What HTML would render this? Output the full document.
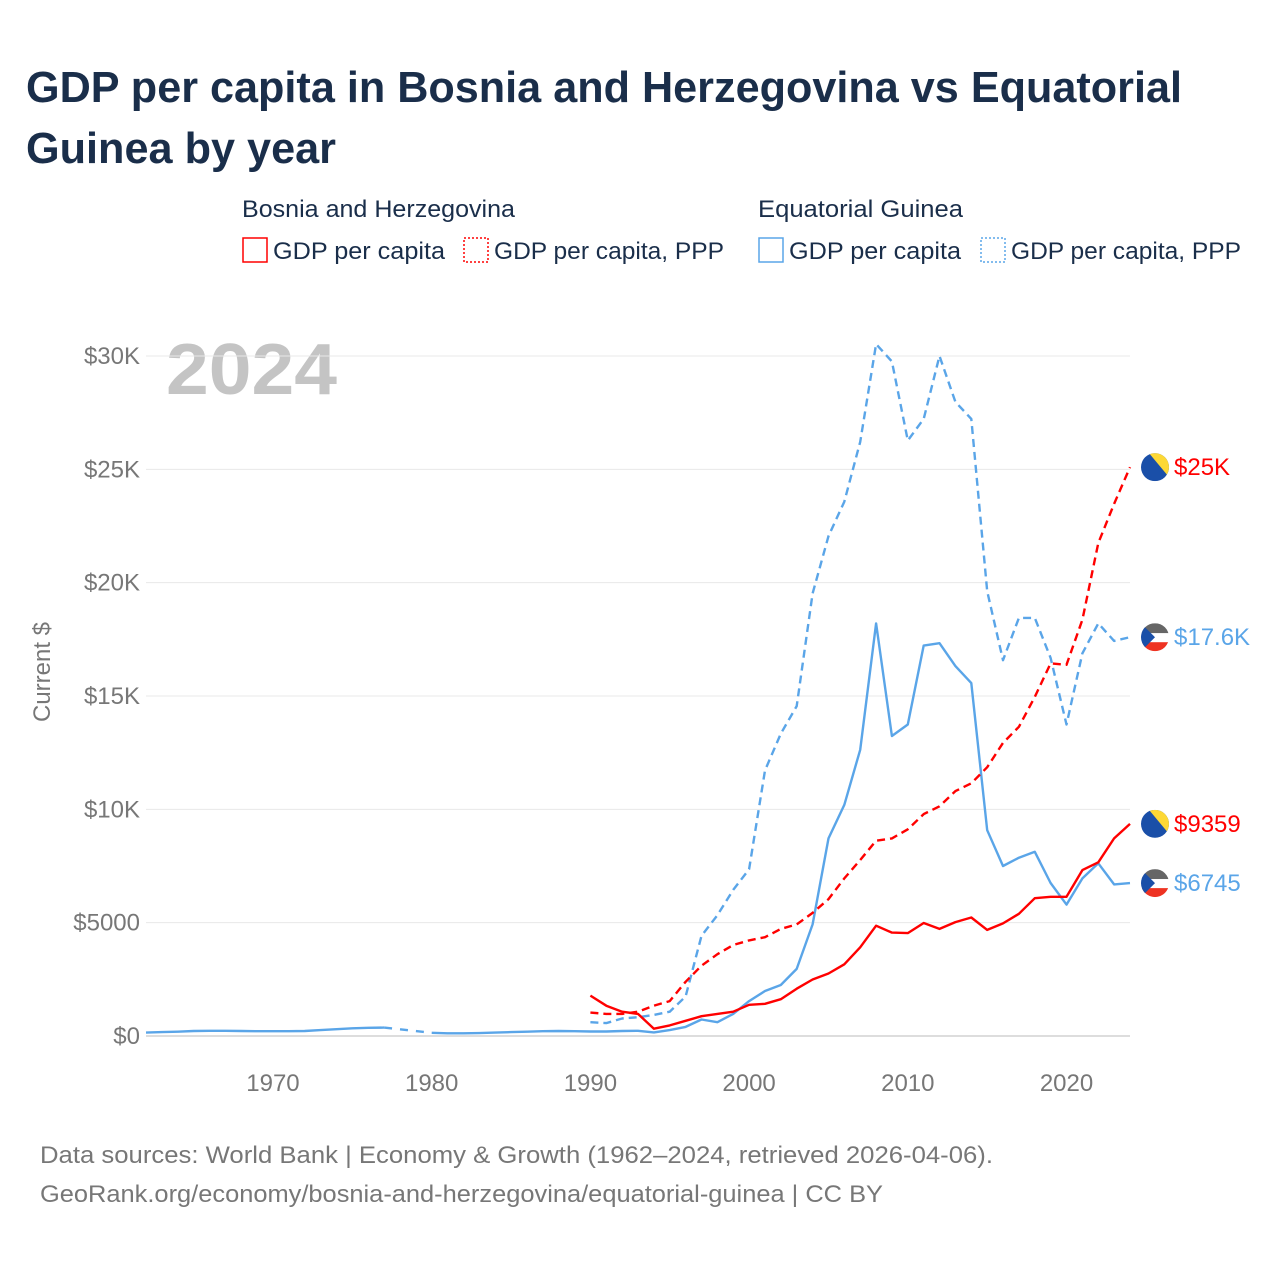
<!DOCTYPE html>
<html><head><meta charset="utf-8"><style>
body{margin:0;background:#fff;font-family:"Liberation Sans",sans-serif;}
#root{position:relative;width:1280px;height:1280px;overflow:hidden;}
</style></head><body>
<div id="root">
<svg id="svg" width="1280" height="1280" xmlns="http://www.w3.org/2000/svg">
<text x="26" y="102" font-size="44" font-weight="bold" fill="#1a2e4a" textLength="1156" lengthAdjust="spacingAndGlyphs">GDP per capita in Bosnia and Herzegovina vs Equatorial</text>
<text x="26" y="163" font-size="44" font-weight="bold" fill="#1a2e4a" textLength="310" lengthAdjust="spacingAndGlyphs">Guinea by year</text>
<g font-size="24" fill="#1a2e4a">
<text x="242" y="217" textLength="273" lengthAdjust="spacingAndGlyphs">Bosnia and Herzegovina</text>
<text x="758" y="217" textLength="205" lengthAdjust="spacingAndGlyphs">Equatorial Guinea</text>
<rect x="243" y="238" width="24" height="24" fill="none" stroke="#f00" stroke-width="1.5"/>
<text x="273" y="259" textLength="172" lengthAdjust="spacingAndGlyphs">GDP per capita</text>
<rect x="464" y="238" width="24" height="24" fill="none" stroke="#f00" stroke-width="1.5" stroke-dasharray="2,2"/>
<text x="494" y="259" textLength="230" lengthAdjust="spacingAndGlyphs">GDP per capita, PPP</text>
<rect x="759" y="238" width="24" height="24" fill="none" stroke="#5aa5e8" stroke-width="1.5"/>
<text x="789" y="259" textLength="172" lengthAdjust="spacingAndGlyphs">GDP per capita</text>
<rect x="981" y="238" width="24" height="24" fill="none" stroke="#5aa5e8" stroke-width="1.5" stroke-dasharray="2,2"/>
<text x="1011" y="259" textLength="230" lengthAdjust="spacingAndGlyphs">GDP per capita, PPP</text>
</g>
<text x="166" y="394" font-size="72" font-weight="bold" fill="#c4c4c4" textLength="171" lengthAdjust="spacingAndGlyphs">2024</text>
<text transform="translate(50,672) rotate(-90)" text-anchor="middle" font-size="24" fill="#777">Current $</text>
<g id="grid"></g><g id="series"></g><g id="labels"></g>
<text x="40" y="1163" font-size="24" fill="#777" textLength="953" lengthAdjust="spacingAndGlyphs">Data sources: World Bank | Economy &amp; Growth (1962–2024, retrieved 2026-04-06).</text>
<text x="40" y="1202" font-size="24" fill="#777" textLength="843" lengthAdjust="spacingAndGlyphs">GeoRank.org/economy/bosnia-and-herzegovina/equatorial-guinea | CC BY</text>
</svg>
</div>
<script>
const yTicks=[0,5000,10000,15000,20000,25000,30000];
const yTickLabels=["$0","$5000","$10K","$15K","$20K","$25K","$30K"];
const xTicks=[1970,1980,1990,2000,2010,2020];
const bihYears=[1990,1991,1992,1993,1994,1995,1996,1997,1998,1999,2000,2001,2002,2003,2004,2005,2006,2007,2008,2009,2010,2011,2012,2013,2014,2015,2016,2017,2018,2019,2020,2021,2022,2023,2024];
const bihGdp=[1784,1338,1074,973,324,466,669,872,973,1074,1378,1419,1622,2088,2493,2757,3162,3912,4865,4561,4541,4987,4723,5027,5230,4682,4966,5392,6080,6141,6141,7317,7662,8716,9359];
const bihPpp=[1034,973,973,1074,1338,1540,2392,3101,3608,4013,4216,4358,4723,4925,5432,6040,6953,7763,8615,8716,9121,9790,10135,10804,11148,11858,12932,13641,14959,16439,16378,18365,21750,23473,25095];
const eqgEarlyYears=[1962,1963,1964,1965,1966,1967,1968,1969,1970,1971,1972,1973,1974,1975,1976,1977];
const eqgEarlyGdp=[150,170,190,220,230,230,220,210,210,210,220,260,300,340,360,370];
const eqgYears=[1980,1981,1982,1983,1984,1985,1986,1987,1988,1989,1990,1991,1992,1993,1994,1995,1996,1997,1998,1999,2000,2001,2002,2003,2004,2005,2006,2007,2008,2009,2010,2011,2012,2013,2014,2015,2016,2017,2018,2019,2020,2021,2022,2023,2024];
const eqgGdp=[140,120,120,130,150,170,190,210,220,210,200,200,220,230,160,260,400,730,608,973,1540,1986,2250,2959,4925,8716,10196,12628,18202,13236,13743,17230,17331,16317,15567,9081,7500,7865,8128,6750,5797,6953,7621,6689,6745];
const eqgPppYears=bihYears;
const eqgPpp=[608,568,770,831,932,1074,1743,4419,5331,6446,7358,11716,13338,14554,19520,22054,23574,26210,30527,29756,26271,27223,30000,27973,27223,19621,16581,18446,18446,16682,13743,16885,18202,17432,17594];
const NS="http://www.w3.org/2000/svg";
const X=y=>146+(y-1962)*(984/62);
const Y=v=>1036-v*(680/30000);
function mk(t,a,p){const e=document.createElementNS(NS,t);for(const k in a)e.setAttribute(k,a[k]);p.appendChild(e);return e;}
const grid=document.getElementById('grid'),ser=document.getElementById('series'),lab=document.getElementById('labels');
yTicks.forEach((v,i)=>{
 const l=mk('line',{x1:146,x2:1130,y1:Y(v),y2:Y(v),stroke:i==0?'#ddd':'#e8e8e8','stroke-width':i==0?2:1},grid);
 
 
 const t=mk('text',{x:140,y:Y(v)+8,'text-anchor':'end','font-size':24,fill:'#777'},grid);t.textContent=yTickLabels[i];
 
 
});
xTicks.forEach(y=>{
 const t=mk('text',{x:X(y),y:1091,'text-anchor':'middle','font-size':24,fill:'#777'},grid);t.textContent=y;
 
 
});
function line(ys,vs,col,dash,name){
 const d=ys.map((y,i)=>(i?'L':'M')+X(y).toFixed(1)+','+Y(vs[i]).toFixed(1)).join('');
 const p=mk('path',{d:d,fill:'none',stroke:col,'stroke-width':2.4,'stroke-dasharray':dash||'none','stroke-linejoin':'round'},ser);
 
 
}
const R='#f00',B='#5aa5e8';
line(eqgEarlyYears,eqgEarlyGdp,B,null,'line-eqg-gdp-early');
line([eqgEarlyYears[eqgEarlyYears.length-1],eqgYears[0]],[eqgEarlyGdp[eqgEarlyGdp.length-1],eqgGdp[0]],B,'8,8','line-eqg-gdp-gap');
line(eqgYears,eqgGdp,B,null,'line-eqg-gdp');
line(eqgPppYears,eqgPpp,B,'8,5','line-eqg-ppp');
line(bihYears,bihPpp,R,'8,5','line-bih-ppp');
line(bihYears,bihGdp,R,null,'line-bih-gdp');
function flag(v,type,col,text,name){
 const cy=Y(v),cx=1155;
 const g=mk('g',{},lab);
 
 
 mk('clipPath',{id:'c'+name},g).appendChild(document.createElementNS(NS,'circle')).setAttribute('cx',cx);
 const cc=g.querySelector('circle');cc.setAttribute('cy',cy);cc.setAttribute('r',14);
 const cg=mk('g',{'clip-path':'url(#c'+name+')'},g);
 if(type=='bih'){mk('rect',{x:cx-14,y:cy-14,width:28,height:28,fill:'#1a4fa8'},cg);mk('polygon',{points:`${cx-6},${cy-14} ${cx+14},${cy-14} ${cx+14},${cy+10}`,fill:'#fdd835'},cg);}
 else{mk('rect',{x:cx-14,y:cy-14,width:28,height:10,fill:'#666'},cg);mk('rect',{x:cx-14,y:cy-4,width:28,height:9,fill:'#fff'},cg);mk('rect',{x:cx-14,y:cy+5,width:28,height:9,fill:'#e32'},cg);mk('polygon',{points:`${cx-14},${cy-14} ${cx},${cy} ${cx-14},${cy+14}`,fill:'#1a4fa8'},cg);}
 const t=mk('text',{x:1174,y:cy+8,'font-size':24,fill:col},lab);t.textContent=text;
 
 
}
flag(bihPpp[bihPpp.length-1],'bih',R,'$25K','bih-ppp');
flag(eqgPpp[eqgPpp.length-1],'eqg',B,'$17.6K','eqg-ppp');
flag(bihGdp[bihGdp.length-1],'bih',R,'$9359','bih-gdp');
flag(eqgGdp[eqgGdp.length-1],'eqg',B,'$6745','eqg-gdp');
</script>
</body></html>
